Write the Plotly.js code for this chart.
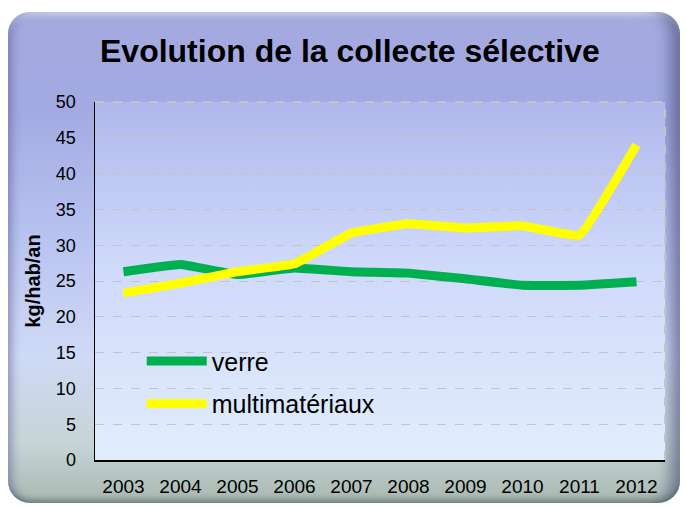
<!DOCTYPE html>
<html>
<head>
<meta charset="utf-8">
<script src="https://cdn.plot.ly/plotly-3.0.1.min.js"></script>
<style>
    body { margin: 0; background: #ffffff; }
    #frame {
        position: absolute; left: 8px; top: 12px; width: 672px; height: 491px;
        border-radius: 22px;
        background: linear-gradient(to bottom, #a4a9de 0%, #a3aae2 20%, #b8c2f0 45%, #cfdaf6 70%, #c6d4d6 88%, #a9b8b0 100%);
        box-shadow: inset 10px 0 10px -6px rgba(70,80,140,0.45), inset -18px 0 14px -8px rgba(60,70,110,0.55), inset 0 6px 6px -3px rgba(255,255,255,0.6), inset 0 -6px 6px -3px rgba(60,80,70,0.5);
    }
    #chart { position: absolute; left: 0; top: 0; width: 686px; height: 506px; }
</style>
</head>
<body>
<div id="frame"></div>
<div id="chart"></div>
<script>
// Data
const years = ['2003', '2004', '2005', '2006', '2007', '2008', '2009', '2010', '2011', '2012'];
const verre = [26.3, 27.3, 25.9, 26.8, 26.3, 26.1, 25.3, 24.4, 24.4, 24.9];
const multimateriaux = [23.3, 24.7, 26.3, 27.4, 31.7, 33.0, 32.4, 32.7, 31.4, 44.0];
const yTicks = [0, 5, 10, 15, 20, 25, 30, 35, 40, 45, 50];

const fontFamily = 'Liberation Sans, Arial, sans-serif';

// plot area gradient as an svg image
const gradSvg = '<svg xmlns="http://www.w3.org/2000/svg" width="10" height="100" preserveAspectRatio="none">' +
    '<defs><linearGradient id="g" x1="0" y1="0" x2="0" y2="1">' +
    '<stop offset="0" stop-color="#b0b8ec"/><stop offset="0.45" stop-color="#cfd9fa"/><stop offset="1" stop-color="#e2edfc"/>' +
    '</linearGradient></defs><rect width="10" height="100" fill="url(#g)"/></svg>';

let data = [{
    x: years,
    y: verre,
    name: 'verre',
    type: 'scatter',
    mode: 'lines',
    line: {color: '#00b050', width: 9, shape: 'spline', smoothing: 0.25},
    legendgroup: 'a'
}, {
    x: years,
    y: multimateriaux,
    name: 'multimatériaux',
    type: 'scatter',
    mode: 'lines',
    line: {color: '#ffff00', width: 9, shape: 'spline', smoothing: 0.25},
    legendgroup: 'b'
}];

let layout = {
    width: 686,
    height: 506,
    paper_bgcolor: 'rgba(0,0,0,0)',
    plot_bgcolor: 'rgba(0,0,0,0)',
    margin: {l: 95, r: 21, t: 102, b: 46},
    title: {
        text: 'Evolution de la collecte sélective',
        font: {family: fontFamily, size: 32, color: '#000000', weight: 'bold'},
        x: 0.51, xanchor: 'center',
        y: 0.9, yanchor: 'middle', yref: 'container'
    },
    xaxis: {
        type: 'category',
        tickvals: years,
        ticktext: years,
        range: [-0.5, 9.5],
        showgrid: false,
        showline: true,
        linecolor: '#000000',
        linewidth: 1.5,
        ticks: '',
        ticklabelstandoff: 9,
        tickfont: {family: fontFamily, size: 19, color: '#000000'},
        zeroline: false
    },
    yaxis: {
        range: [0, 50],
        tickvals: yTicks,
        showgrid: true,
        gridcolor: '#c4c4c4',
        griddash: 'dash',
        gridwidth: 1,
        showline: true,
        linecolor: '#000000',
        linewidth: 1.5,
        ticks: '',
        ticklabelstandoff: 14,
        zeroline: false,
        tickfont: {family: fontFamily, size: 18, color: '#000000'},
        title: {
            text: 'kg/hab/an',
            font: {family: fontFamily, size: 20, color: '#000000', weight: 'bold'},
            standoff: 10
        }
    },
    showlegend: true,
    legend: {
        x: 0.082, xanchor: 'left',
        y: 0.34, yanchor: 'top',
        bgcolor: 'rgba(0,0,0,0)',
        font: {family: fontFamily, size: 25, color: '#000000'},
        itemwidth: 60,
        tracegroupgap: 7
    },
    images: [{
        source: 'data:image/svg+xml;charset=utf-8,' + encodeURIComponent(gradSvg),
        xref: 'paper', yref: 'paper',
        x: 0, y: 1, sizex: 1, sizey: 1,
        xanchor: 'left', yanchor: 'top',
        sizing: 'stretch',
        layer: 'below'
    }],
    shapes: [{
        type: 'line', xref: 'paper', yref: 'paper',
        x0: 0, x1: 1, y0: 1, y1: 1,
        line: {color: '#c4c4c4', width: 2, dash: 'dash'}
    }, {
        type: 'line', xref: 'paper', yref: 'paper',
        x0: 1, x1: 1, y0: 0, y1: 1,
        line: {color: '#c4c4c4', width: 2, dash: 'dash'}
    }]
};

let config = {
    staticPlot: true,
    displayModeBar: false
};

Plotly.newPlot('chart', data, layout, config);
</script>
</body>
</html>
